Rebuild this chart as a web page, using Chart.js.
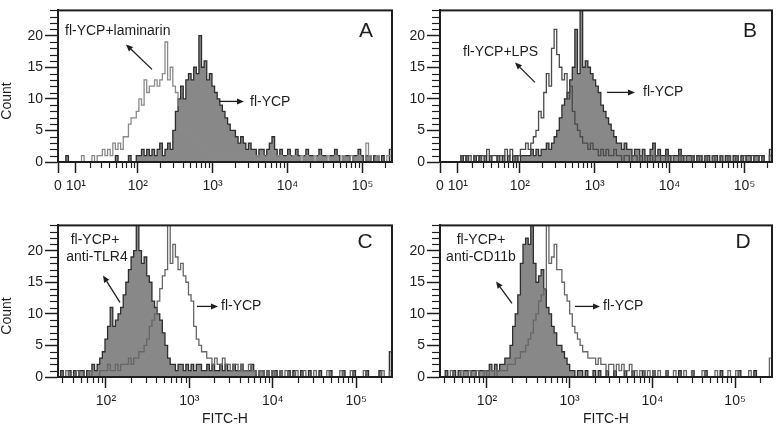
<!DOCTYPE html>
<html>
<head>
<meta charset="utf-8">
<script src="https://cdn.jsdelivr.net/npm/chart.js"></script>
<style>
  html, body { margin: 0; padding: 0; background: #fff; }
  #fig { position: relative; width: 777px; height: 429px; overflow: hidden; }
  #fig canvas { position: absolute; }
</style>
</head>
<body>
<div id="fig">
  <canvas id="cA" width="396" height="215" style="left:0;top:0"></canvas>
  <canvas id="cB" width="395" height="215" style="left:382px;top:0"></canvas>
  <canvas id="cC" width="396" height="214" style="left:0;top:215px"></canvas>
  <canvas id="cD" width="395" height="214" style="left:382px;top:215px"></canvas>
</div>
<script>
// ===== Données (comptes par canal, 128 canaux sur toute la largeur de l'axe)
const countsA_flYCP = [
  0,0,0,1,0,0,0,0,0,0,0,0,0,0,0,0,
  0,0,0,0,0,0,1,0,0,0,0,1,0,0,1,1,
  2,1,2,1,2,1,2,3,1,2,3,2,5,8,10,12,
  10,13,14,13,15,14,20,15,16,13,14,12,11,10,9,8,
  7,6,5,5,4,3,4,3,2,3,2,2,1,2,2,1,
  2,3,4,2,1,2,1,1,2,1,1,2,1,0,1,2,
  1,1,0,1,2,1,1,0,1,1,2,1,0,1,1,1,
  0,1,1,2,1,0,1,1,0,1,1,0,1,0,0,2];
const countsA_laminarin = [
  0,0,0,0,0,0,0,0,0,1,0,0,0,1,0,1,
  1,2,1,2,1,3,2,3,2,4,4,6,7,7,8,10,
  9,13,11,12,12,13,12,13,14,19,13,15,12,11,9,8,
  6,5,5,4,3,3,2,2,1,2,1,1,2,1,1,0,
  1,1,0,1,1,0,1,1,0,1,0,1,1,0,1,0,
  1,0,1,0,1,1,0,0,1,0,1,0,0,1,0,1,
  0,0,1,0,1,0,0,1,0,0,1,0,0,1,0,0,
  1,0,0,1,0,0,3,1,0,0,1,0,0,0,1,1];
const countsB_flYCP = [
  0,0,0,0,0,0,0,0,1,0,1,0,0,1,0,1,
  0,1,0,1,0,0,1,0,1,0,1,0,1,1,0,1,
  1,1,1,2,1,2,1,2,2,3,2,3,4,5,7,9,
  10,11,13,15,21,14,24,15,16,15,14,13,12,11,9,8,
  7,6,5,4,3,3,2,3,2,2,1,2,2,1,2,1,
  1,2,3,1,2,1,1,2,1,0,1,1,2,1,0,1,
  1,1,0,1,1,0,1,1,0,1,1,0,1,0,1,1,
  0,1,1,0,1,0,1,1,0,1,1,0,1,0,0,2];
const countsB_LPS = [
  0,0,0,0,0,0,0,0,1,1,0,1,0,1,1,0,
  1,1,2,1,1,1,0,1,1,2,1,2,1,0,1,2,
  2,3,2,3,4,5,8,7,11,14,12,18,21,17,15,13,
  14,10,12,8,6,5,4,3,3,2,3,2,2,1,2,1,
  2,1,1,2,1,1,0,1,1,0,1,1,0,1,0,1,
  0,1,0,1,1,0,0,1,0,1,0,0,1,0,1,0,
  0,1,0,0,1,0,1,0,0,1,0,0,1,0,0,1,
  0,0,1,0,0,1,0,0,1,0,0,1,0,0,0,1];
const countsC_antiTLR4 = [
  0,1,0,0,1,0,1,0,1,1,0,1,1,2,1,2,
  3,4,6,8,11,8,9,10,11,13,15,17,19,20,24,20,
  18,19,16,15,12,11,10,9,7,5,3,2,2,1,2,2,
  1,2,1,2,1,2,2,1,1,2,1,2,1,1,2,1,
  2,1,1,2,1,1,2,1,1,1,2,1,0,1,1,0,
  1,0,1,1,0,1,0,0,1,0,1,0,0,1,0,0,
  1,0,0,0,1,0,0,0,1,0,0,0,0,1,0,0,
  0,1,0,0,0,0,1,0,0,0,0,1,0,0,0,4];
const countsC_flYCP = [
  0,0,0,1,0,0,0,1,0,0,0,0,1,0,0,0,
  1,1,1,2,1,1,2,1,2,2,2,3,2,3,3,4,
  4,5,6,8,9,10,12,14,16,17,24,18,21,19,17,18,
  16,15,13,12,8,6,5,4,4,3,3,2,3,2,2,3,
  2,2,1,2,2,1,2,1,1,2,1,1,0,1,1,0,
  1,0,1,0,0,1,0,1,0,0,0,1,0,0,1,0,
  0,0,1,0,0,0,0,1,0,0,0,0,1,0,0,0,
  1,0,0,0,0,1,0,0,0,0,0,0,1,0,0,1];
const countsD_antiCD11b = [
  0,0,1,0,0,1,0,1,0,1,1,0,1,1,0,1,
  1,1,1,2,1,2,1,2,2,3,3,5,8,10,13,18,
  21,22,21,24,18,15,16,17,14,11,10,8,7,5,5,4,
  3,2,1,1,0,1,1,0,1,0,0,1,0,1,0,0,
  1,0,0,1,0,0,0,1,0,0,1,0,0,0,1,0,
  0,0,1,0,0,0,0,1,0,0,0,0,1,0,0,0,
  0,1,0,0,0,0,1,0,0,0,0,0,1,0,0,0,
  0,0,0,1,0,0,0,0,0,1,0,0,0,0,0,0];
const countsD_flYCP = [
  0,0,0,0,1,0,0,0,1,0,0,1,0,0,1,0,
  0,1,0,1,1,0,1,1,1,1,2,2,2,3,3,4,
  4,5,6,7,9,10,12,13,14,24,18,19,21,17,17,15,
  13,12,10,8,7,6,5,4,4,3,3,3,2,3,2,2,
  1,2,2,1,2,1,2,1,1,2,1,1,0,1,1,0,
  1,0,1,0,1,0,0,1,0,0,1,0,0,0,1,0,
  0,1,0,0,0,1,0,0,0,0,1,0,0,0,0,1,
  0,0,1,0,0,0,0,1,0,0,0,0,0,0,0,3];

// ===== Graduations
const yTickLabels = [0, 5, 10, 15, 20];
const xMajorsAB = [0, 10, 100, 1000, 10000, 100000];
const xLabelsAB = ['0', '10\u00b9', '10\u00b2', '10\u00b3', '10\u2074', '10\u2075'];
const xMajorsCD = [100, 1000, 10000, 100000];
const xLabelsCD = ['10\u00b2', '10\u00b3', '10\u2074', '10\u2075'];
const minorsFrom = first => {
  const out = [];
  for (let d = first; d <= 100000; d *= 10)
    for (let k = 2; k <= 9; k++) if (k * d <= 262144) out.push(k * d);
  return out;
};

// ===== Transformations d'axe (biexponentielle pour A/B, log pour C/D)
const W_BIEX = 8.7;
const biex = v => Math.asinh(v / (2 * W_BIEX)) / Math.LN10;
const logt = v => Math.log10(v);

const INK = '#1e1e1e';
const FONT = "'Liberation Sans', Arial, sans-serif";
Chart.defaults.font.family = FONT;
Chart.defaults.color = INK;

const panels = [
  { id: 'cA', tf: biex, umin: 0, umax: 4.453, majors: xMajorsAB, labels: xLabelsAB, minors: minorsFrom(10),
    filled: countsA_flYCP, line: countsA_laminarin, lineColor: '#8a8a8a',
    padTop: 6, padRight: 4, xh: 53, count: true, xtitle: false, letter: 'A', letterPos: [308, 21],
    texts: [['fl-YCP+laminarin', 7, 21, 'left'], ['fl-YCP', 192, 92, 'left']],
    arrows: [[94, 59, 68, 34], [161, 91, 186, 91]] },
  { id: 'cB', tf: biex, umin: 0, umax: 4.427, majors: xMajorsAB, labels: xLabelsAB, minors: minorsFrom(10),
    filled: countsB_flYCP, line: countsB_LPS, lineColor: '#4a4a4a',
    padTop: 6, padRight: 5, xh: 53, count: false, xtitle: false, letter: 'B', letterPos: [310, 21],
    texts: [['fl-YCP+LPS', 23, 42, 'left'], ['fl-YCP', 203, 82, 'left']],
    arrows: [[95, 72, 75, 52], [167, 82, 195, 82]] },
  { id: 'cC', tf: logt, umin: 1.425, umax: 5.43, majors: xMajorsCD, labels: xLabelsCD, minors: minorsFrom(10).filter(v => v >= 30),
    filled: countsC_antiTLR4, line: countsC_flYCP, lineColor: '#666666',
    padTop: 8, padRight: 4, xh: 52, count: true, xtitle: true, letter: 'C', letterPos: [307, 17],
    texts: [['fl-YCP+', 37, 15, 'center'], ['anti-TLR4', 39, 32, 'center'], ['fl-YCP', 163, 81, 'left']],
    arrows: [[62, 77, 45, 50], [139, 81, 160, 81]] },
  { id: 'cD', tf: logt, umin: 1.432, umax: 5.447, majors: xMajorsCD, labels: xLabelsCD, minors: minorsFrom(10).filter(v => v >= 30),
    filled: countsD_antiCD11b, line: countsD_flYCP, lineColor: '#666666',
    padTop: 8, padRight: 5, xh: 52, count: false, xtitle: true, letter: 'D', letterPos: [303, 17],
    texts: [['fl-YCP+', 41, 15, 'center'], ['anti-CD11b', 41, 32, 'center'], ['fl-YCP', 163, 81, 'left']],
    arrows: [[72, 78, 56, 56], [135, 81, 160, 81]] }
];

// Converte um vetor de contagens em pontos {x, y} no centro de cada canal
function toPoints(counts, p) {
  const du = (p.umax - p.umin) / counts.length;
  return counts.map((c, i) => ({ x: p.umin + (i + 0.5) * du, y: c }));
}

// Plugin: petites graduations, cadre, annotations
function makeExtras(p) {
  return {
    id: 'extras',
    afterDraw(chart) {
      const { ctx, chartArea: a, scales } = chart;
      ctx.save();
      ctx.strokeStyle = INK;
      ctx.lineWidth = 1.2;
      p.minors.forEach(v => {
        const px = Math.round(scales.x.getPixelForValue(p.tf(v))) + 0.5;
        ctx.beginPath(); ctx.moveTo(px, a.bottom); ctx.lineTo(px, a.bottom + 6); ctx.stroke();
      });
      for (let c = 1; c <= 24; c++) {
        if (c % 5 === 0) continue;
        const py = Math.round(scales.y.getPixelForValue(c)) + 0.5;
        ctx.beginPath(); ctx.moveTo(a.left - 8, py); ctx.lineTo(a.left, py); ctx.stroke();
      }
      ctx.lineWidth = 2;
      ctx.strokeRect(a.left, a.top, a.right - a.left, a.bottom - a.top);

      ctx.fillStyle = INK;
      ctx.textBaseline = 'middle';
      ctx.font = '14px ' + FONT;
      p.texts.forEach(([t, x, y, al]) => {
        ctx.textAlign = al;
        ctx.fillText(t, a.left + x, a.top + y);
      });
      ctx.lineWidth = 1.3;
      p.arrows.forEach(([x1, y1, x2, y2]) => {
        const X1 = a.left + x1, Y1 = a.top + y1, X2 = a.left + x2, Y2 = a.top + y2;
        const ang = Math.atan2(Y2 - Y1, X2 - X1);
        const hx = X2 - 7 * Math.cos(ang), hy = Y2 - 7 * Math.sin(ang);
        ctx.beginPath(); ctx.moveTo(X1, Y1); ctx.lineTo(hx, hy); ctx.stroke();
        ctx.beginPath();
        ctx.moveTo(X2, Y2);
        ctx.lineTo(hx + 3 * Math.sin(ang), hy - 3 * Math.cos(ang));
        ctx.lineTo(hx - 3 * Math.sin(ang), hy + 3 * Math.cos(ang));
        ctx.closePath(); ctx.fill();
      });
      ctx.font = '21px ' + FONT;
      ctx.textAlign = 'center';
      ctx.fillText(p.letter, a.left + p.letterPos[0], a.top + p.letterPos[1]);

      if (p.count) {
        ctx.font = '14px ' + FONT;
        ctx.translate(7, a.bottom - 61);
        ctx.rotate(-Math.PI / 2);
        ctx.fillText('Count', 0, 0);
      }
      ctx.restore();
    }
  };
}

panels.forEach(p => {
  new Chart(document.getElementById(p.id), {
    type: 'line',
    data: {
      datasets: [
        { data: toPoints(p.line, p), stepped: 'middle', borderColor: p.lineColor, borderWidth: 1.3,
          pointRadius: 0, fill: false, order: 0 },
        { data: toPoints(p.filled, p), stepped: 'middle', borderColor: '#2e2e2e', borderWidth: 1.3,
          backgroundColor: '#888888', pointRadius: 0, fill: 'origin', order: 1 }
      ]
    },
    options: {
      responsive: false,
      animation: false,
      events: [],
      layout: { padding: { top: p.padTop, right: p.padRight, left: 0, bottom: 0 } },
      plugins: { legend: { display: false }, tooltip: { enabled: false } },
      scales: {
        x: {
          type: 'linear', min: p.umin, max: p.umax,
          afterFit: s => { s.height = p.xh; },
          afterBuildTicks: s => { s.ticks = p.majors.map(v => ({ value: p.tf(v) })); },
          ticks: { autoSkip: false, maxRotation: 0, padding: 5, color: INK, font: { size: 14 },
                   callback: (v, i) => p.labels[i] },
          grid: { drawOnChartArea: false, tickLength: 11, tickWidth: 1.5, tickColor: INK },
          border: { width: 2, color: INK },
          title: { display: p.xtitle, text: 'FITC-H', color: INK, font: { size: 14 }, padding: { top: 0, bottom: 1 } }
        },
        y: {
          type: 'linear', min: 0, max: 24,
          afterFit: s => { s.width = 58; },
          afterBuildTicks: s => { s.ticks = yTickLabels.map(v => ({ value: v })); },
          ticks: { padding: 2, color: INK, font: { size: 14 } },
          grid: { drawOnChartArea: false, tickLength: 13, tickWidth: 1.5, tickColor: INK },
          border: { width: 2, color: INK }
        }
      }
    },
    plugins: [makeExtras(p)]
  });
});
</script>
</body>
</html>
